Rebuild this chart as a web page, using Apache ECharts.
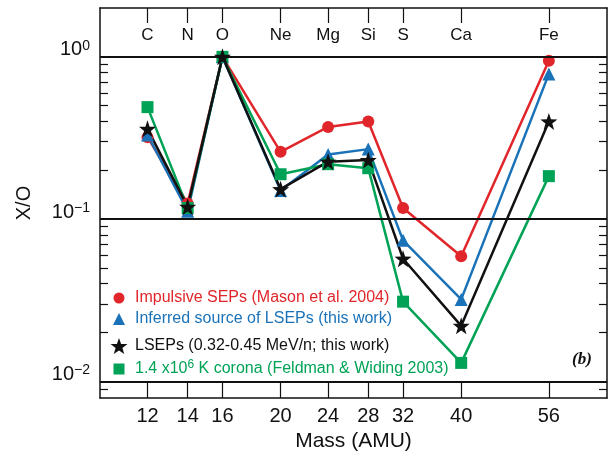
<!DOCTYPE html>
<html>
<head>
<meta charset="utf-8">
<script src="https://cdn.jsdelivr.net/npm/echarts@6/dist/echarts.min.js"></script>
<style>
  html, body { margin: 0; padding: 0; background: #fff; }
  #chart { width: 610px; height: 457px; }
</style>
</head>
<body>
<div id="chart"></div>
<script>
// data
const masses = [12, 14, 16, 20, 24, 28, 32, 40, 56]
const elements = ['C', 'N', 'O', 'Ne', 'Mg', 'Si', 'S', 'Ca', 'Fe']
const impulsive = [0.32, 0.125, 1, 0.26, 0.37, 0.40, 0.117, 0.059, 0.945]
const inferred = [0.33, 0.112, 1, 0.15, 0.25, 0.27, 0.074, 0.032, 0.785]
const lseps = [0.36, 0.119, 1, 0.153, 0.226, 0.231, 0.057, 0.022, 0.40]
const corona = [0.49, 0.117, 1, 0.189, 0.218, 0.206, 0.031, 0.013, 0.184]
const yLabelValues = [1, 0.1, 0.01]
const yMinorTicks = [0.9, 0.8, 0.7, 0.6, 0.5, 0.4, 0.3, 0.2,
  0.09, 0.08, 0.07, 0.06, 0.05, 0.04, 0.03, 0.02, 0.009]

const FONT = '"Liberation Sans", Arial, Helvetica, sans-serif'
const STAR = 'path://M0,-10L2.35,-3.24L9.51,-3.09L3.8,1.24L5.88,8.09L0,4L-5.88,8.09L-3.8,1.24L-9.51,-3.09L-2.35,-3.24Z'
const RED = '#e0262b'
const BLUE = '#1a72b8'
const GREEN = '#00a356'
const BLACK = '#111111'

const names = [
  'Impulsive SEPs (Mason et al. 2004)',
  'Inferred source of LSEPs (this work)',
  'LSEPs (0.32-0.45 MeV/n; this work)',
  '1.4 x10^6 K corona (Feldman & Widing 2003)'
]

const pairs = arr => masses.map((m, i) => [m, arr[i]])

const myChart = echarts.init(document.getElementById('chart'))

const xBase = {
  type: 'log',
  logBase: 10,
  min: 10,
  max: 70,
  splitLine: { show: false },
  minorTick: { show: false },
  axisLine: { lineStyle: { color: BLACK, width: 1.5 } }
}
const yBase = {
  type: 'log',
  logBase: 10,
  min: 0.0079,
  max: 2,
  splitLine: { show: false },
  minorTick: { show: false },
  axisLine: { show: true, lineStyle: { color: BLACK, width: 1.5 } },
  axisTick: {
    inside: true,
    length: 8,
    customValues: yMinorTicks,
    lineStyle: { color: BLACK, width: 1.2 }
  }
}

// one legend per row, icon centred at x=119, text starting at x=135
function legendAt (name, icon, size, top, color, extra) {
  const pad = 135 - (119 + size / 2 + 5)
  const legend = {
    left: 119 - size / 2,
    top: top - 10,
    padding: 0,
    itemWidth: size,
    itemHeight: size,
    selectedMode: false,
    data: [{ name: name, icon: icon }],
    textStyle: { color: color, fontSize: 16, lineHeight: 20, fontFamily: FONT, padding: [0, 0, 0, pad] }
  }
  if (extra) {
    legend.formatter = extra.formatter
    legend.textStyle.rich = extra.rich
  }
  return legend
}

const option = {
  animation: false,
  grid: { left: 100, right: 3, top: 8, bottom: 59 },
  xAxis: [
    Object.assign({}, xBase, {
      position: 'bottom',
      name: 'Mass (AMU)',
      nameLocation: 'middle',
      nameGap: 33,
      nameTextStyle: { color: BLACK, fontSize: 21, fontFamily: FONT },
      axisTick: {
        inside: true,
        length: 15,
        customValues: masses,
        lineStyle: { color: BLACK, width: 1.2 }
      },
      axisLabel: {
        customValues: masses,
        margin: 8,
        color: BLACK,
        fontSize: 20,
        fontFamily: FONT
      }
    }),
    Object.assign({}, xBase, {
      position: 'top',
      axisTick: {
        inside: true,
        length: 15,
        customValues: masses,
        lineStyle: { color: BLACK, width: 1.2 }
      },
      axisLabel: {
        inside: true,
        customValues: masses,
        margin: 19,
        color: BLACK,
        fontSize: 17,
        fontFamily: FONT,
        formatter: v => elements[masses.indexOf(Math.round(v))] || ''
      }
    })
  ],
  yAxis: [
    Object.assign({}, yBase, {
      position: 'left',
      name: 'X/O',
      nameLocation: 'middle',
      nameGap: 66,
      nameTextStyle: { color: BLACK, fontSize: 20, fontFamily: FONT },
      axisLabel: {
        customValues: yLabelValues,
        margin: 10,
        padding: [0, 0, 14, 0],
        fontFamily: FONT,
        formatter: v => {
          const e = Math.round(Math.log10(v))
          return '{b|10}{s|' + (e < 0 ? '\u2212' + (-e) : e) + '}'
        },
        rich: {
          b: { fontSize: 20, lineHeight: 22, color: BLACK, fontFamily: FONT },
          s: { fontSize: 14, lineHeight: 14, verticalAlign: 'top', color: BLACK, fontFamily: FONT }
        }
      }
    }),
    Object.assign({}, yBase, {
      position: 'right',
      axisLabel: { show: false }
    })
  ],
  legend: [
    legendAt(names[0], 'circle', 11, 298, RED),
    legendAt(names[1], 'triangle', 12, 319, BLUE),
    legendAt(names[2], STAR, 17, 346, BLACK),
    legendAt(names[3], 'rect', 11, 369, GREEN, {
      formatter: () => '{a|1.4 x10}{s|6}{a| K corona (Feldman & Widing 2003)}',
      rich: {
        a: { fontSize: 16, lineHeight: 20, color: GREEN, fontFamily: FONT },
        s: { fontSize: 12, lineHeight: 12, verticalAlign: 'top', color: GREEN, fontFamily: FONT }
      }
    })
  ],
  graphic: [
    {
      type: 'text',
      left: 572,
      top: 351,
      style: { text: '(b)', font: 'italic bold 17px "Liberation Serif", "DejaVu Serif", serif', fill: BLACK }
    }
  ],
  series: [
    {
      name: names[0],
      type: 'line',
      data: pairs(impulsive),
      symbol: 'circle',
      symbolSize: 12,
      color: RED,
      lineStyle: { width: 2.5 },
      markLine: {
        silent: true,
        symbol: 'none',
        label: { show: false },
        lineStyle: { color: BLACK, width: 2, type: 'solid' },
        data: yLabelValues.map(v => ({ yAxis: v }))
      }
    },
    {
      name: names[1],
      type: 'line',
      data: pairs(inferred),
      symbol: 'triangle',
      symbolSize: 13,
      color: BLUE,
      lineStyle: { width: 2.5 }
    },
    {
      name: names[3],
      type: 'line',
      data: pairs(corona),
      symbol: 'rect',
      symbolSize: 12,
      color: GREEN,
      lineStyle: { width: 2.5 }
    },
    {
      name: names[2],
      type: 'line',
      data: pairs(lseps),
      symbol: STAR,
      symbolSize: 17,
      color: BLACK,
      lineStyle: { width: 2.5 }
    }
  ]
}

myChart.setOption(option)
window.addEventListener('resize', function () {
  myChart.resize()
})
</script>
</body>
</html>
